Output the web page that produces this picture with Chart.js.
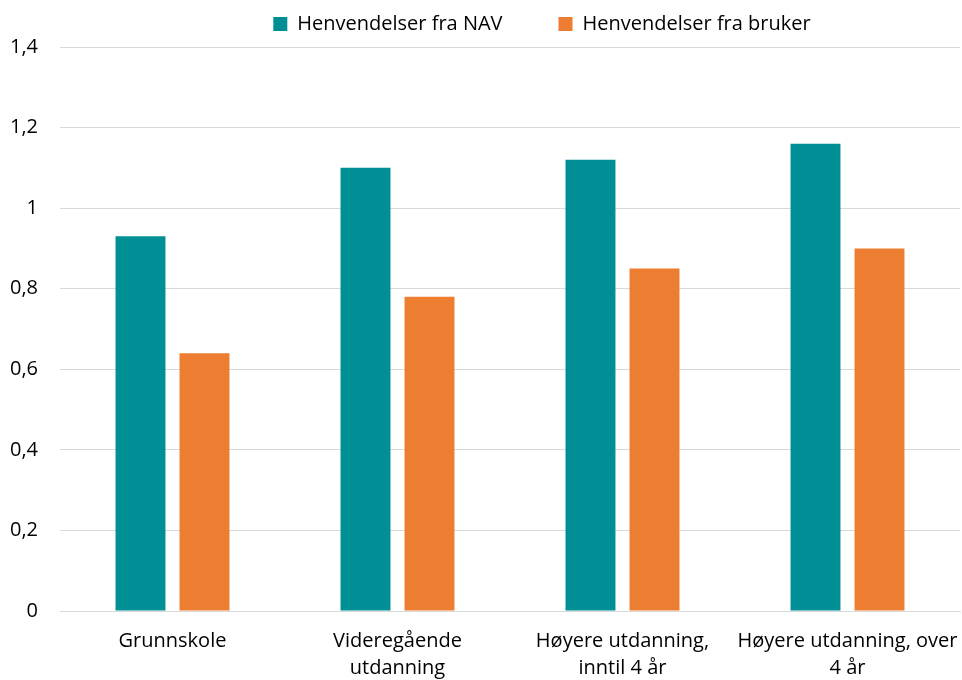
<!DOCTYPE html>
<html>
<head>
<meta charset="utf-8">
<script src="https://cdn.jsdelivr.net/npm/chart.js@4"></script>
<style>
  html, body { margin: 0; padding: 0; background: #fff; }
  #wrap { width: 962px; height: 680px; position: relative; }
</style>
</head>
<body>
<div id="wrap"><canvas id="c" width="962" height="680"></canvas></div>
<script>
const categories = [
  "Grunnskole",
  ["Videregående", "utdanning"],
  ["Høyere utdanning,", "inntil 4 år"],
  ["Høyere utdanning, over", "4 år"]
];
const seriesNames = ["Henvendelser fra NAV", "Henvendelser fra bruker"];
const navValues = [0.93, 1.10, 1.12, 1.16];
const brukerValues = [0.64, 0.78, 0.85, 0.90];
const yTicks = [0, 0.2, 0.4, 0.6, 0.8, 1.0, 1.2, 1.4];

const FONT = "'Open Sans', 'Liberation Sans', sans-serif";

// moves the legend sideways/vertically to match the reference placement
const legendShift = {
  id: 'legendShift',
  afterLayout(chart) {
    const lg = chart.legend;
    if (!lg) return;
    lg.left += 62; lg.right += 62;
    lg.top -= 3; lg.bottom -= 3;
  }
};

new Chart(document.getElementById('c'), {
  type: 'bar',
  data: {
    labels: categories,
    datasets: [
      { label: seriesNames[0], data: navValues, backgroundColor: '#008F95', borderWidth: 0 },
      { label: seriesNames[1], data: brukerValues, backgroundColor: '#ED7D31', borderWidth: 0 }
    ]
  },
  plugins: [legendShift],
  options: {
    responsive: false,
    animation: false,
    devicePixelRatio: 1,
    layout: { padding: { left: 0, right: 2, top: -39, bottom: 0 } },
    datasets: { bar: { categoryPercentage: 0.569, barPercentage: 0.78 } },
    plugins: {
      tooltip: { enabled: false },
      legend: {
        position: 'top',
        align: 'center',
        labels: {
          font: { family: FONT, size: 20 },
          color: '#000',
          boxWidth: 14,
          boxHeight: 14,
          padding: 56
        }
      }
    },
    scales: {
      x: {
        grid: { display: false, drawTicks: false },
        border: { display: true, color: '#d9d9d9', width: 1 },
        ticks: {
          font: { family: FONT, size: 20, lineHeight: 1.35 },
          color: '#000',
          padding: 17,
          maxRotation: 0,
          autoSkip: false
        },
        afterFit: (s) => { s.height = 69; s.paddingLeft = 0; s.paddingRight = 0; }
      },
      y: {
        min: 0,
        max: 1.4,
        afterBuildTicks: (s) => { s.ticks = yTicks.map(v => ({ value: v })); },
        grid: { color: '#d9d9d9', drawTicks: false, lineWidth: 1 },
        border: { display: false },
        ticks: {
          font: { family: FONT, size: 20 },
          color: '#000',
          padding: 22,
          callback: (v) => String(Math.round(v * 10) / 10).replace('.', ',')
        },
        afterFit: (s) => { s.width = 60; }
      }
    }
  }
});
</script>
</body>
</html>
